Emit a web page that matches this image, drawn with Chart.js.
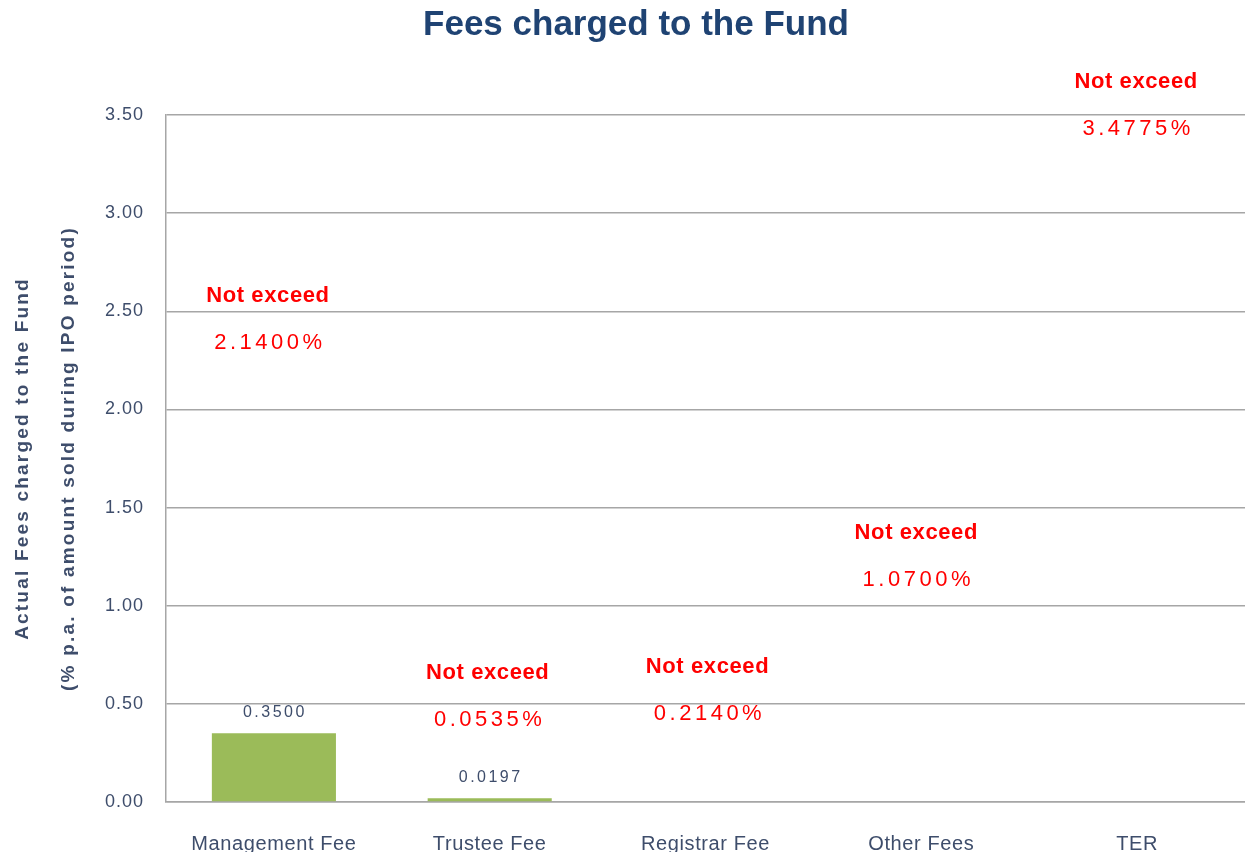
<!DOCTYPE html>
<html>
<head>
<meta charset="utf-8">
<title>Fees charged to the Fund</title>
<script src="https://cdn.jsdelivr.net/npm/chart.js@4"></script>
<style>
  html, body { margin: 0; padding: 0; background: #ffffff; }
  #wrap { position: relative; width: 1245px; height: 852px; }
</style>
</head>
<body>
<div id="wrap"><canvas id="feeChart"></canvas></div>
<script>
  // ------------------------------------------------------------------ data
  const CATEGORIES = ["Management Fee", "Trustee Fee", "Registrar Fee", "Other Fees", "TER"];
  // Actual fees charged (% p.a.); blank where no bar is drawn.
  const ACTUAL_FEES = [0.35, 0.0197, null, null, null];
  // Ceiling for each fee, shown as the red "Not exceed" note.
  const FEE_LIMITS = [2.14, 0.0535, 0.214, 1.07, 3.4775];
  const Y_TICKS = [0, 0.5, 1, 1.5, 2, 2.5, 3, 3.5];

  const COLORS = {
    bar: "#9bbb59",
    grid: "#a6a6a6",
    tick: "#3e4d6b",
    title: "#1f4373",
    note: "#ff0000",
  };

  const SANS = "'Liberation Sans', Arial, sans-serif";

  // Wrap a scale draw method so it renders with extra letter spacing.
  function spaced(fn, px) {
    return function () {
      const c = this.ctx;
      const prev = c.letterSpacing;
      c.letterSpacing = px;
      fn.apply(this, arguments);
      c.letterSpacing = prev;
    };
  }

  const spacingPlugin = {
    id: "spacing",
    beforeDraw(chart) {
      if (chart.$spaced) return;
      chart.$spaced = true;
      const x = chart.scales.x, y = chart.scales.y;
      x.drawLabels = spaced(x.drawLabels, "0.6px");
      y.drawLabels = spaced(y.drawLabels, "1px");
      y.drawTitle = spaced(y.drawTitle, "2.2px");
    },
  };

  // Value labels above bars, red limit notes, and the chart title.
  const notesPlugin = {
    id: "notes",
    afterDraw(chart, args, opts) {
      const ctx = chart.ctx;
      const xs = chart.scales.x, ys = chart.scales.y;
      const meta = chart.getDatasetMeta(0);
      ctx.save();
      ctx.textAlign = "center";
      ctx.textBaseline = "middle";

      // bar values
      ctx.fillStyle = COLORS.tick;
      ctx.font = "16px " + SANS;
      ctx.letterSpacing = "2.5px";
      ACTUAL_FEES.forEach(function (v, i) {
        if (v == null) return;
        const bar = meta.data[i];
        ctx.fillText(v.toFixed(4), bar.x + 1, bar.y - 21);
      });

      // limit notes
      ctx.fillStyle = COLORS.note;
      FEE_LIMITS.forEach(function (v, i) {
        const cx = xs.getPixelForValue(i) + opts.shiftX[i];
        const top = ys.getPixelForValue(opts.anchorY[i]);
        ctx.font = "bold 22px " + SANS;
        ctx.letterSpacing = "0.6px";
        ctx.fillText("Not exceed", cx, top);
        ctx.font = "22px " + SANS;
        ctx.letterSpacing = "3.5px";
        ctx.fillText(v.toFixed(4) + "%", cx + 2, top + 47);
      });

      // title
      ctx.fillStyle = COLORS.title;
      ctx.font = "bold 35px " + SANS;
      ctx.letterSpacing = "0px";
      ctx.fillText("Fees charged to the Fund", 636, 25);
      ctx.restore();
    },
  };

  new Chart(document.getElementById("feeChart"), {
    type: "bar",
    data: {
      labels: CATEGORIES,
      datasets: [{
        data: ACTUAL_FEES,
        backgroundColor: COLORS.bar,
        borderWidth: 0,
        categoryPercentage: 1,
        barPercentage: 0.575,
      }],
    },
    options: {
      responsive: true,
      maintainAspectRatio: false,
      animation: false,
      layout: { padding: { top: 115, right: 0, left: 0, bottom: 0 } },
      scales: {
        x: {
          grid: { display: false },
          border: { display: true, color: COLORS.grid, width: 1.5 },
          ticks: { color: COLORS.tick, font: { family: SANS, size: 20 }, padding: 22, maxRotation: 0 },
          afterFit: function (s) { s.height = 50; },
        },
        y: {
          min: 0,
          max: 3.5,
          afterBuildTicks: function (s) { s.ticks = Y_TICKS.map(function (v) { return { value: v }; }); },
          grid: { color: COLORS.grid, lineWidth: 1.5, drawTicks: false },
          border: { display: true, color: COLORS.grid, width: 1.5 },
          ticks: {
            color: COLORS.tick,
            font: { family: SANS, size: 18 },
            padding: 22,
            callback: function (v) { return Number(v).toFixed(2); },
          },
          title: {
            display: true,
            text: ["Actual Fees charged to the Fund", "(% p.a. of amount sold during IPO period)"],
            color: COLORS.tick,
            font: { family: SANS, size: 19, weight: "bold", lineHeight: 2.42 },
            padding: { top: 0, bottom: 0 },
          },
          afterFit: function (s) { s.width = 166; },
        },
      },
      plugins: {
        legend: { display: false },
        tooltip: { enabled: false },
        notes: {
          // vertical anchor (axis units) and nudge (px) for each red note
          anchorY: [2.58, 0.66, 0.69, 1.37, 3.67],
          shiftX: [-6, -2, 2, -5, -1],
        },
      },
    },
    plugins: [spacingPlugin, notesPlugin],
  });
</script>
</body>
</html>
